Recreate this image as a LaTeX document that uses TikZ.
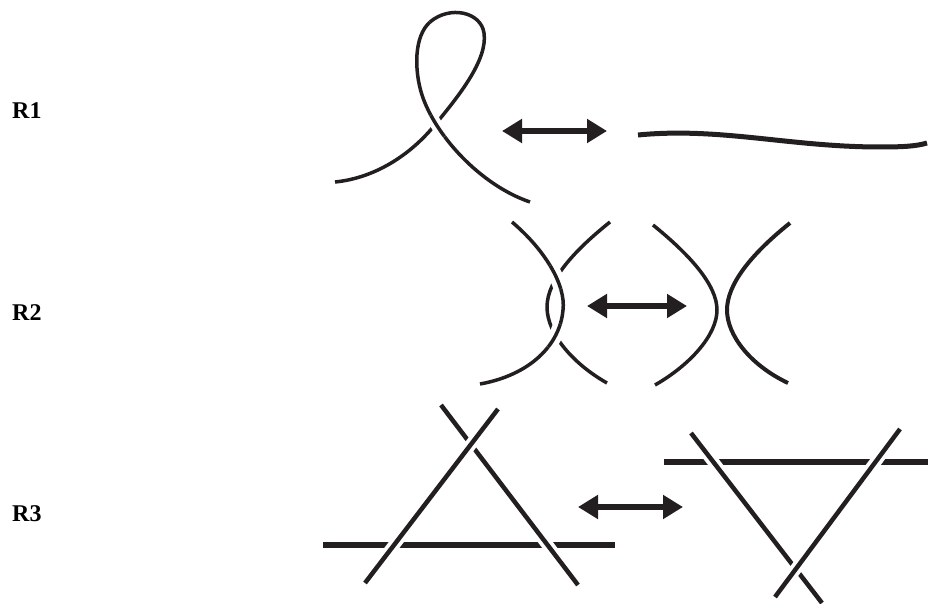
\documentclass[tikz,border=0pt]{standalone}
\usepackage{fontspec}
\setmainfont{Liberation Serif}
\usetikzlibrary{arrows.meta}
\definecolor{ink}{RGB}{35,31,32}
\tikzset{
  strand/.style={draw=ink,line width=3.5pt},
  rline/.style={draw=ink,line width=4.5pt},
  hline/.style={draw=ink,line width=6pt},
  halo/.style={draw=white,line width=#1},
  lab/.style={anchor=base west,inner sep=0pt,font=\bfseries\fontsize{24}{28}\selectfont},
  dbl/.style={draw=ink,line width=5.5pt,
    {Triangle[length=20pt,width=23pt]}-{Triangle[length=20pt,width=23pt]}},
}
\begin{document}
\begin{tikzpicture}[x=1pt,y=-1pt]
\useasboundingbox (0,0) rectangle (929,604);
% labels
\node[lab] (l1) at (12,119) {R1};
\node[lab] (l2) at (12,320.5) {R2};
\node[lab] (l3) at (12,521) {R3};
% ---------- R1 ----------
\def\rAunder{(335,182) .. controls (375,178) and (410,155) .. (434,126)
  .. controls (458,97) and (488,60) .. (484,33)
  .. controls (481,12) and (450,5) .. (430,22)}
\def\rAover{(430,22) .. controls (414,36) and (414,70) .. (422,95)
  .. controls (435,135) and (480,185) .. (530,202)}
\draw[strand] \rAunder;
\draw[strand] \rAover;
\begin{scope}
  \clip (436,127) circle (13);
  \draw[halo=12pt] \rAover;
  \draw[strand] \rAover;
\end{scope}
\coordinate (a1l) at (502,131);
\coordinate (a1r) at (607,131);
\draw[dbl] (a1l) -- (a1r);
\draw[draw=ink,line width=5pt] (638,135) .. controls (720,127) and (790,147) .. (880,147)
  .. controls (905,147) and (917,146) .. (927,143);
% ---------- R2 ----------
\def\rBover{(512,222) .. controls (545,250) and (566,285) .. (563,310)
  .. controls (560,345) and (530,375) .. (480,384)}
\def\rBunder{(610,222) .. controls (575,250) and (547,280) .. (547,307)
  .. controls (547,335) and (575,365) .. (607,383)}
\draw[strand] \rBunder;
\draw[strand] \rBover;
\begin{scope}
  \clip (556,277) circle (13) (555,336) circle (13);
  \draw[halo=14pt] \rBover;
  \draw[strand] \rBover;
\end{scope}
\coordinate (a2l) at (587,306);
\coordinate (a2r) at (687,306);
\draw[dbl] (a2l) -- (a2r);
\draw[strand] (653,225) .. controls (690,255) and (717,285) .. (717,310)
  .. controls (717,335) and (690,365) .. (655,385);
\draw[draw=ink,line width=4pt] (790,223) .. controls (750,255) and (727,285) .. (727,310)
  .. controls (727,335) and (750,365) .. (788,383);
% ---------- R3 left ----------
\coordinate (h1a) at (323,545); \coordinate (h1b) at (615,545);
\coordinate (aa) at (365,583);  \coordinate (ab) at (498,409);
\coordinate (ba) at (441,405);  \coordinate (bb) at (578,585);
\draw[hline] (h1a) -- (h1b);
\draw[halo=12pt] (ba) -- (bb);
\draw[rline] (ba) -- (bb);
\draw[halo=12pt] (aa) -- (ab);
\draw[rline] (aa) -- (ab);
\coordinate (a3l) at (578,507);
\coordinate (a3r) at (683,507);
\draw[dbl] (a3l) -- (a3r);
% ---------- R3 right ----------
\coordinate (h2a) at (664,462); \coordinate (h2b) at (928,462);
\coordinate (ca) at (691,433);  \coordinate (cb) at (822,603);
\coordinate (da) at (900,429);  \coordinate (db) at (775,597);
\draw[hline] (h2a) -- (h2b);
\draw[halo=12pt] (ca) -- (cb);
\draw[rline] (ca) -- (cb);
\draw[halo=12pt] (da) -- (db);
\draw[rline] (da) -- (db);
\end{tikzpicture}
\end{document}
